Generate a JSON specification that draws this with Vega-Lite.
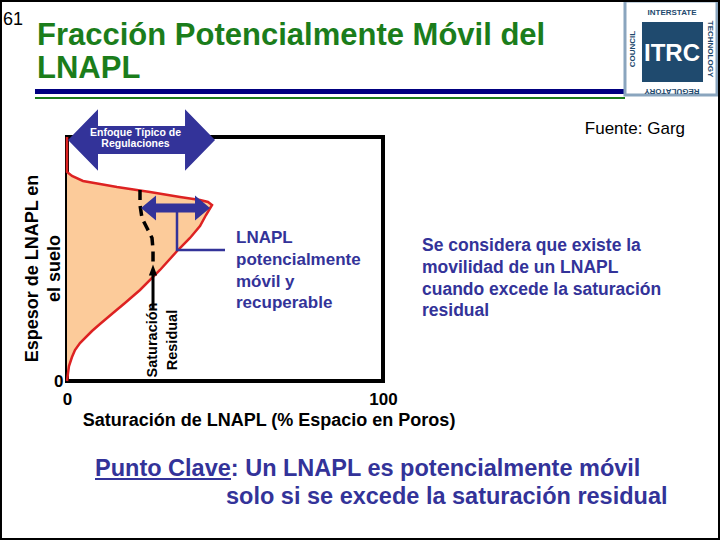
{
  "$schema": "https://vega.github.io/schema/vega-lite/v6.json",
  "width": 316,
  "height": 244,
  "autosize": {"type": "none"},
  "padding": {"left": 67, "top": 137, "right": 337, "bottom": 159},
  "background": "white",
  "config": {"font": "Liberation Sans", "view": {"stroke": "black", "strokeWidth": 4}},
  "datasets": {
    "curve": [
      {"i": 0, "x": 0, "y": 100}, {"i": 1, "x": 0, "y": 85.66}, {"i": 2, "x": 1.58, "y": 84.02},
      {"i": 3, "x": 5.06, "y": 81.97}, {"i": 4, "x": 10.44, "y": 80.74}, {"i": 5, "x": 15.82, "y": 79.51},
      {"i": 6, "x": 26.27, "y": 77.46}, {"i": 7, "x": 35.76, "y": 75.41}, {"i": 8, "x": 42.09, "y": 74.18},
      {"i": 9, "x": 44.62, "y": 73.36}, {"i": 10, "x": 45.89, "y": 72.13}, {"i": 11, "x": 43.99, "y": 68.03},
      {"i": 12, "x": 42.09, "y": 63.52}, {"i": 13, "x": 38.92, "y": 58.61}, {"i": 14, "x": 35.13, "y": 53.69},
      {"i": 15, "x": 29.43, "y": 45.49}, {"i": 16, "x": 23.10, "y": 37.30}, {"i": 17, "x": 18.35, "y": 31.97},
      {"i": 18, "x": 14.56, "y": 27.87}, {"i": 19, "x": 10.44, "y": 23.36}, {"i": 20, "x": 7.91, "y": 20.49},
      {"i": 21, "x": 4.11, "y": 15.57}, {"i": 22, "x": 2.53, "y": 12.70}, {"i": 23, "x": 1.58, "y": 9.84},
      {"i": 24, "x": 0.63, "y": 6.15}, {"i": 25, "x": 0.32, "y": 3.28}, {"i": 26, "x": 0, "y": 0}
    ],
    "dash": [
      {"i": 0, "x": 23.10, "y": 78.28}, {"i": 1, "x": 23.10, "y": 72.13}, {"i": 2, "x": 23.73, "y": 66.80},
      {"i": 3, "x": 25.32, "y": 62.70}, {"i": 4, "x": 26.90, "y": 58.61}, {"i": 5, "x": 27.22, "y": 53.69},
      {"i": 6, "x": 27.22, "y": 47.54}
    ],
    "connector": [
      {"i": 0, "x": 34.81, "y": 70.90}, {"i": 1, "x": 34.81, "y": 53.69}, {"i": 2, "x": 50.0, "y": 53.69}
    ]
  },
  "encoding": {
    "x": {"field": "x", "type": "quantitative", "scale": {"domain": [0, 100], "nice": false, "zero": false},
      "axis": {"values": [0, 100], "title": "Saturación de LNAPL (% Espacio en Poros)", "domain": false, "ticks": false, "grid": false,
        "labelFontSize": 17, "labelFontWeight": "bold", "labelColor": "black", "labelPadding": 10, "labelDx": 2, "labelFlush": false,
        "titleFontSize": 18, "titleFontWeight": "bold", "titleColor": "black", "titleX": 201.5, "titleY": 44, "titleBaseline": "alphabetic", "titleAlign": "center"}},
    "y": {"field": "y", "type": "quantitative", "scale": {"domain": [0, 100], "nice": false, "zero": false},
      "axis": {"values": [0], "title": ["Espesor de LNAPL en", "el suelo"], "domain": false, "ticks": false, "grid": false,
        "labelFontSize": 17, "labelFontWeight": "bold", "labelColor": "black", "labelPadding": 4,
        "titleFontSize": 18, "titleFontWeight": "bold", "titleColor": "black", "titleX": -30, "titleY": 131, "titleAngle": 270,
        "titleBaseline": "alphabetic", "titleAlign": "center", "titleLineHeight": 22}}
  },
  "layer": [
    {
      "data": {"name": "curve"},
      "mark": {"type": "area", "orient": "horizontal", "color": "#FCCB9A", "opacity": 1}
    },
    {
      "data": {"name": "curve"},
      "mark": {"type": "line", "color": "#DD2222", "strokeWidth": 2.5},
      "encoding": {"order": {"field": "i", "type": "quantitative"}}
    },
    {
      "data": {"name": "dash"},
      "mark": {"type": "line", "color": "black", "strokeWidth": 3.5, "strokeDash": [10, 6]},
      "encoding": {"order": {"field": "i", "type": "quantitative"}}
    },
    {
      "data": {"values": [{"x": 27.22, "y": 29.10, "y2": 44.5}]},
      "mark": {"type": "rule", "color": "black", "strokeWidth": 3},
      "encoding": {"y2": {"field": "y2"}}
    },
    {
      "data": {"values": [{"x": 27.22, "y": 45.49}]},
      "mark": {"type": "point", "shape": "M0,-1 L0.75,1 L-0.75,1 Z", "size": 121, "filled": true, "color": "black", "opacity": 1}
    },
    {
      "data": {"name": "connector"},
      "mark": {"type": "line", "color": "#333399", "strokeWidth": 2.5},
      "encoding": {"order": {"field": "i", "type": "quantitative"}}
    },
    {
      "data": {"values": [{"x": 34.34, "y": 70.90}]},
      "mark": {"type": "point", "shape": "M-1,0 L-0.565,-0.362 L-0.565,-0.13 L0.565,-0.13 L0.565,-0.362 L1,0 L0.565,0.362 L0.565,0.13 L-0.565,0.13 L-0.565,0.362 Z", "size": 4761, "filled": true, "color": "#333399", "opacity": 1}
    },
    {
      "data": {"values": [{"x": 23.58, "y": 98.77}]},
      "mark": {"type": "point", "shape": "M-1,0 L-0.592,-0.42 L-0.592,-0.19 L0.592,-0.19 L0.592,-0.42 L1,0 L0.592,0.42 L0.592,0.19 L-0.592,0.19 L-0.592,0.42 Z", "size": 21609, "filled": true, "color": "#333399", "opacity": 1}
    },
    {
      "data": {"values": [{"t": "Enfoque Típico de\nRegulaciones", "x": 21.68, "y": 100.6}]},
      "mark": {"type": "text", "align": "center", "baseline": "alphabetic", "fontSize": 10.5, "fontWeight": "bold", "color": "white", "lineBreak": "\n", "lineHeight": 11},
      "encoding": {"text": {"field": "t"}}
    },
    {
      "data": {"values": [{"t": "Saturación", "x": 28.48, "y": 16.8}, {"t": "Residual", "x": 34.81, "y": 16.8}]},
      "mark": {"type": "text", "align": "center", "baseline": "alphabetic", "angle": 270, "fontSize": 14.5, "fontWeight": "bold", "color": "black"},
      "encoding": {"text": {"field": "t"}}
    },
    {
      "data": {"values": [{"t": "LNAPL", "x": 53.48, "y": 56.56}, {"t": "potencialmente", "x": 53.48, "y": 47.54}, {"t": "móvil y", "x": 53.48, "y": 38.52}, {"t": "recuperable", "x": 53.48, "y": 29.92}]},
      "mark": {"type": "text", "align": "left", "baseline": "alphabetic", "fontSize": 17, "fontWeight": "bold", "color": "#333399"},
      "encoding": {"text": {"field": "t"}}
    },
    {
      "data": {"values": [{"t": "Se considera que existe la", "x": 112.34, "y": 53.28}, {"t": "movilidad de un LNAPL", "x": 112.34, "y": 44.26}, {"t": "cuando excede la saturación", "x": 112.34, "y": 35.25}, {"t": "residual", "x": 112.34, "y": 26.64}]},
      "mark": {"type": "text", "align": "left", "baseline": "alphabetic", "fontSize": 17.5, "fontWeight": "bold", "color": "#333399"},
      "encoding": {"text": {"field": "t"}}
    },
    {
      "data": {"values": [{"t": "Fuente: Garg", "x": 195.57, "y": 101.23}]},
      "mark": {"type": "text", "align": "right", "baseline": "alphabetic", "fontSize": 17, "color": "black"},
      "encoding": {"text": {"field": "t"}}
    },
    {
      "data": {"values": [{"t": "Fracción Potencialmente Móvil del\nLNAPL", "x": -9.49, "y": 137.70}]},
      "mark": {"type": "text", "align": "left", "baseline": "alphabetic", "fontSize": 31, "fontWeight": "bold", "color": "#1B7D1B", "lineBreak": "\n", "lineHeight": 33},
      "encoding": {"text": {"field": "t"}}
    },
    {
      "data": {"values": [{"t": "61", "x": -20.25, "y": 145.9}]},
      "mark": {"type": "text", "align": "left", "baseline": "alphabetic", "fontSize": 18, "color": "black"},
      "encoding": {"text": {"field": "t"}}
    },
    {
      "data": {"values": [{"x": -10.13, "x2": 176.58, "y": 118.65}]},
      "mark": {"type": "rule", "color": "#000080", "strokeWidth": 5},
      "encoding": {"x2": {"field": "x2"}}
    },
    {
      "data": {"values": [{"x": -10.13, "x2": 176.58, "y": 115.98}]},
      "mark": {"type": "rule", "color": "#1B7D1B", "strokeWidth": 2},
      "encoding": {"x2": {"field": "x2"}}
    },
    {
      "data": {"values": [{"t": "Punto Clave:  Un LNAPL es potencialmente móvil", "x": 8.86, "y": -38.93}, {"t": "solo si se excede la saturación residual", "x": 50.32, "y": -50.41}]},
      "mark": {"type": "text", "align": "left", "baseline": "alphabetic", "fontSize": 23.5, "fontWeight": "bold", "color": "#333399"},
      "encoding": {"text": {"field": "t"}}
    },
    {
      "data": {"values": [{"x": 8.86, "x2": 51.9, "y": -40.16}]},
      "mark": {"type": "rule", "color": "#333399", "strokeWidth": 2},
      "encoding": {"x2": {"field": "x2"}}
    },
    {
      "data": {"values": [{"x": 176.58, "x2": 205.70, "y": 155.74, "y2": 117.21}]},
      "mark": {"type": "rect", "fill": "white", "stroke": "#8AA5BE", "strokeWidth": 3},
      "encoding": {"x2": {"field": "x2"}, "y2": {"field": "y2"}}
    },
    {
      "data": {"values": [{"x": 181.96, "x2": 201.27, "y": 147.13, "y2": 122.54}]},
      "mark": {"type": "rect", "color": "#1F4A6E", "opacity": 1},
      "encoding": {"x2": {"field": "x2"}, "y2": {"field": "y2"}}
    },
    {
      "data": {"values": [{"t": "ITRC", "x": 191.46, "y": 131.31}]},
      "mark": {"type": "text", "align": "center", "baseline": "alphabetic", "fontSize": 24, "fontWeight": "bold", "color": "white"},
      "encoding": {"text": {"field": "t"}}
    },
    {
      "data": {"values": [{"t": "INTERSTATE", "x": 191.46, "y": 150.82}]},
      "mark": {"type": "text", "align": "center", "baseline": "middle", "fontSize": 8, "fontWeight": "bold", "color": "#1F4A6E"},
      "encoding": {"text": {"field": "t"}}
    },
    {
      "data": {"values": [{"t": "TECHNOLOGY", "x": 203.48, "y": 136.07}]},
      "mark": {"type": "text", "align": "center", "baseline": "middle", "angle": 90, "fontSize": 8, "fontWeight": "bold", "color": "#1F4A6E"},
      "encoding": {"text": {"field": "t"}}
    },
    {
      "data": {"values": [{"t": "COUNCIL", "x": 179.11, "y": 136.07}]},
      "mark": {"type": "text", "align": "center", "baseline": "middle", "angle": 270, "fontSize": 8, "fontWeight": "bold", "color": "#1F4A6E"},
      "encoding": {"text": {"field": "t"}}
    },
    {
      "data": {"values": [{"t": "REGULATORY", "x": 191.46, "y": 118.85}]},
      "mark": {"type": "text", "align": "center", "baseline": "middle", "angle": 180, "fontSize": 8, "fontWeight": "bold", "color": "#1F4A6E"},
      "encoding": {"text": {"field": "t"}}
    },
    {
      "data": {"values": [{"x": -20.89, "x2": 206.33, "y": 155.74, "y2": -64.75}]},
      "mark": {"type": "rect", "filled": false, "color": "black", "strokeWidth": 2},
      "encoding": {"x2": {"field": "x2"}, "y2": {"field": "y2"}}
    }
  ]
}
